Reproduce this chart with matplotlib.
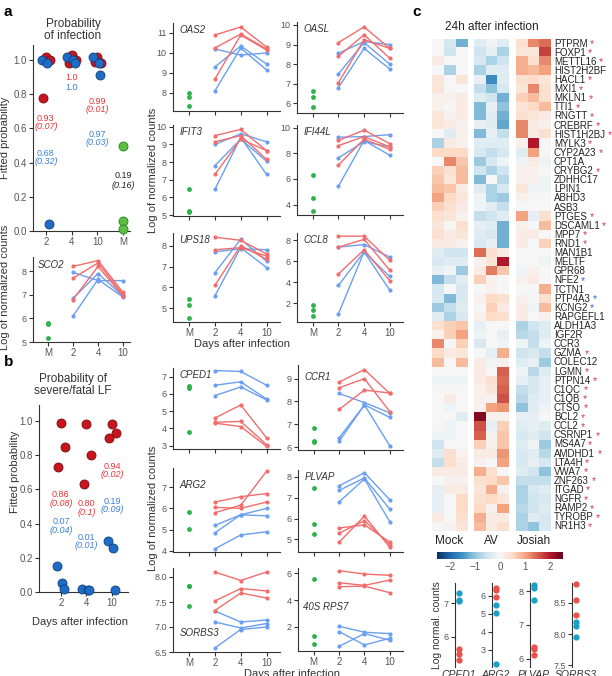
import numpy as np
import matplotlib.pyplot as plt
import matplotlib as mpl

mpl.rcParams['font.family'] = ['Liberation Sans', 'DejaVu Sans']

W, H = 612, 676

# ---------------- panel a / b : fitted probabilities ----------------
days_inf = ['2', '4', '10', 'M']
inf_red = [[1.02, 1.0, 0.78], [1.03, 1.0, 0.98], [1.02, 0.98, 0.99]]
inf_blue = [[1.0, 0.98, 0.04], [1.02, 1.0, 0.98], [1.02, 0.98, 0.91]]
inf_green = [0.5, 0.06, 0.01]
inf_red_txt = [('0.93', '(0.07)'), ('1.0', ''), ('0.99', '(0.01)')]
inf_blue_txt = [('0.68', '(0.32)'), ('1.0', ''), ('0.97', '(0.03)')]
inf_red_ty = [0.635, 0.9, 0.735]
inf_blue_ty = [0.43, 0.84, 0.54]
inf_green_txt = ('0.19', '(0.16)')
inf_green_ty = 0.295

days_sev = ['2', '4', '10']
sev_red = [[0.99, 0.85, 0.73], [0.98, 0.80, 0.63], [0.98, 0.93, 0.90]]
sev_blue = [[0.15, 0.05, 0.02], [0.02, 0.01, 0.01], [0.30, 0.26, 0.01]]
sev_red_txt = [('0.86', '(0.08)'), ('0.80', '(0.1)'), ('0.94', '(0.02)')]
sev_blue_txt = [('0.07', '(0.04)'), ('0.01', '(0.01)'), ('0.19', '(0.09)')]
sev_red_ty = [0.545, 0.49, 0.71]
sev_blue_ty = [0.385, 0.295, 0.505]

# ---------------- gene trajectories (M, 2, 4, 10) ----------------
days_gene = ['M', '2', '4', '10']
sco2_m = [5.8, 5.75, 5.15]
sco2_red = [[8.2, 8.45, 7.1], [7.7, 8.35, 7.0], [6.8, 8.2, 6.95]]
sco2_blue = [[7.95, 7.6, 7.6], [6.85, 7.9, 6.95], [6.1, 7.65, 6.9]]

oas2_m = [8.0, 7.8, 7.35]
oas2_red = [[10.9, 11.3, 10.3], [10.25, 10.95, 10.2], [8.7, 10.9, 10.15]]
oas2_blue = [[10.2, 9.9, 10.0], [9.3, 10.35, 9.45], [8.1, 10.25, 9.15]]

oasl_m = [6.6, 6.3, 5.8]
oasl_red = [[9.1, 9.9, 8.8], [8.4, 9.5, 8.3], [7.05, 9.25, 8.8]]
oasl_blue = [[8.55, 9.15, 9.0], [7.5, 9.1, 8.0], [6.8, 8.8, 7.75]]

ifit3_m = [6.5, 5.25, 5.15]
ifit3_red = [[9.5, 9.85, 8.65], [9.15, 9.5, 8.15], [7.3, 9.3, 8.65]]
ifit3_blue = [[9.0, 9.6, 9.15], [7.8, 9.3, 8.05], [6.45, 9.4, 7.3]]

ifi44l_m = [6.3, 4.55, 3.55]
ifi44l_red = [[9.0, 9.8, 8.75], [8.6, 9.3, 8.5], [7.1, 9.1, 8.3]]
ifi44l_blue = [[9.25, 9.3, 9.45], [7.65, 8.9, 8.5], [5.45, 9.0, 7.85]]

ups18_m = [5.45, 5.15, 4.55]
ups18_red = [[8.4, 8.25, 7.6], [7.8, 7.9, 7.5], [6.1, 8.0, 7.35]]
ups18_blue = [[7.7, 7.85, 7.8], [6.7, 8.3, 7.25], [5.6, 7.9, 6.95]]

ccl8_m = [1.8, 1.3, 0.75]
ccl8_red = [[8.4, 8.4, 6.1], [7.35, 8.1, 5.15], [4.8, 7.1, 4.15]]
ccl8_blue = [[7.35, 7.6, 6.4], [3.7, 6.9, 4.55], [1.0, 6.9, 3.25]]

cped1_m = [6.45, 6.35, 3.8]
cped1_red = [[4.6, 5.35, 3.45], [4.35, 4.4, 3.05], [4.3, 4.1, 2.95]]
cped1_blue = [[7.35, 7.3, 6.5], [6.5, 6.7, 5.7], [5.9, 6.4, 5.65]]

ccr1_m = [6.85, 6.27, 6.2]
ccr1_red = [[8.85, 9.4, 8.35], [8.6, 9.0, 7.55], [7.65, 8.5, 8.37]]
ccr1_blue = [[8.35, 7.95, 7.5], [6.4, 7.85, 7.3], [6.25, 7.85, 6.05]]

arg2_m = [5.85, 5.05]
arg2_red = [[6.3, 6.55, 6.7], [6.05, 6.0, 6.3], [5.8, 6.15, 7.75]]
arg2_blue = [[5.2, 5.7, 6.0], [4.85, 5.7, 5.65], [4.1, 4.75, 4.9]]

plvap_m = [7.45, 5.75, 5.27]
plvap_red = [[5.55, 5.7, 4.87], [5.3, 5.9, 4.75], [4.87, 6.12, 4.62]]
plvap_blue = [[7.57, 8.2, 6.9], [7.35, 7.95, 6.45], [6.8, 7.9, 5.85]]

sorbs3_m = [7.83, 7.82, 7.43]
sorbs3_red = [[8.1, 7.93, 8.1], [7.52, 7.77, 7.72], [7.33, 7.68, 7.58]]
sorbs3_blue = [[7.32, 7.1, 7.14], [7.1, 6.98, 7.07], [6.58, 6.95, 7.0]]

rps7_m = [5.55, 1.3, 0.7]
rps7_red = [[6.2, 5.95, 5.85], [5.3, 5.1, 5.5], [5.0, 5.05, 4.55]]
rps7_blue = [[2.05, 1.6, 1.5], [1.65, 0.65, 1.15], [0.55, 1.5, 1.0]]

# ---------------- heatmap ----------------
genes = ["PTPRM", "FOXP1", "METTL16", "HIST2H2BF", "HACL1", "MXI1", "MKLN1", "TTI1",
         "RNGTT", "CREBRF", "HIST1H2BJ", "MYLK3", "CYP2A23", "CPT1A", "CRYBG2", "ZDHHC17",
         "LPIN1", "ABHD3", "ASB3", "PTGES", "DSCAML1", "MPP7", "RND1", "MAN1B1", "MELTF",
         "GPR68", "NFE2", "TCTN1", "PTP4A3", "KCNG2", "RAPGEFL1", "ALDH1A3", "IGF2R", "CCR3",
         "GZMA", "COLEC12", "LGMN", "PTPN14", "C1QC", "C1QB", "CTSO", "BCL2", "CCL2",
         "CSRNP1", "MS4A7", "AMDHD1", "LTA4H", "VWA7", "ZNF263", "ITGAD", "NGFR", "RAMP2",
         "TYROBP", "NR1H3"]
stars = ['r', 'r', 'r', '', 'r', 'r', 'r', 'r', 'r', 'r', 'r', 'r', 'r', '', 'r', '',
         '', '', '', 'r', 'r', 'r', 'r', '', '', '', 'b', '', 'b', 'b', '', '', '', '',
         'r', '', 'r', 'r', 'r', 'r', 'r', 'r', 'r', 'r', 'r', 'r', 'r', 'r', 'r', 'r',
         'r', 'r', 'r', 'r']
groups = ['Mock', 'AV', 'Josiah']
mock = [[0.0, -0.4, -1.2], [0.0, -0.5, 0.0], [0.2, 0.0, 0.0], [0.0, -0.8, 0.0],
        [0.3, 0.0, 0.3], [0.3, 0.0, 0.0], [0.1, 0.1, 0.2], [0.1, 0.0, 0.2],
        [0.3, 0.1, 0.2], [0.3, 0.2, 0.1], [0.0, -0.3, 0.1], [-0.8, 0.2, 0.1],
        [0.5, 0.5, 0.5], [0.0, 1.2, 0.7], [0.6, 0.4, 0.8], [0.7, 0.3, 0.8],
        [0.8, 0.7, 0.2], [1.0, 0.5, 0.3], [0.6, 0.4, 0.2], [0.4, 0.3, 0.1],
        [0.3, 0.0, 0.4], [0.4, 0.2, 0.3], [0.2, 0.2, 0.1], [-0.3, -0.5, -0.5],
        [-0.4, -0.3, -0.3], [-0.2, -0.1, -0.9], [-1.1, -0.6, -0.3], [-0.4, 0.0, -0.4],
        [-0.4, -1.1, -0.4], [-0.9, -0.6, -0.3], [-0.3, -0.8, -0.4], [0.4, 0.6, 0.7],
        [0.1, 0.6, 1.0], [1.2, 0.0, 0.6], [0.5, 0.2, 0.3], [0.8, 0.0, 0.8],
        [0.0, 0.0, 0.0], [-0.1, -0.1, -0.1], [0.0, 0.0, 0.0], [0.0, 0.2, 0.0],
        [0.0, -0.1, 0.0], [0.0, 0.0, -0.3], [0.0, -0.1, 0.0], [-0.1, -0.1, 0.0],
        [-0.5, 0.0, 0.0], [-0.3, 0.4, 0.1], [-0.6, 0.4, 0.2], [0.2, 0.2, 0.2],
        [0.0, 0.1, 0.1], [-0.2, 0.2, 0.2], [-0.2, 0.0, 0.5], [-0.2, 0.0, 0.5],
        [0.2, 0.0, 0.4], [0.0, 0.1, 0.3]]
av = [[-0.3, -0.1, -0.3], [-0.5, -0.2, -0.8], [-0.4, -0.8, -0.5], [-0.8, -0.3, -0.3],
      [-0.2, -1.6, -0.3], [-0.6, -1.0, -0.4], [-0.3, -0.5, -1.2], [-1.1, -0.2, -1.0],
      [-1.1, -0.3, -1.2], [-0.2, -0.3, -1.3], [-1.1, -0.2, -0.6], [-0.3, -0.3, -0.3],
      [-0.4, -0.6, -0.4], [-0.9, -0.4, -0.1], [-0.5, -0.8, -0.5], [-1.1, 0.0, -0.7],
      [-0.3, -0.8, -0.4], [-0.1, -0.8, -0.9], [-0.1, -0.3, -0.6], [-0.6, -0.5, -0.3],
      [-0.2, -0.3, -1.2], [-0.3, -0.4, -1.2], [-0.4, -0.2, -1.2], [1.4, 0.4, 0.2],
      [0.1, 0.3, 2.0], [0.2, 1.3, 0.7], [0.6, 0.1, 0.0], [0.0, 0.1, 0.0],
      [0.1, 0.5, 0.4], [0.0, 0.6, 0.2], [0.1, 0.5, 0.4], [-0.2, 0.0, 0.0],
      [-0.1, 0.0, -0.2], [-0.4, 0.0, -0.1], [0.0, -0.2, 0.9], [0.2, -0.1, 0.1],
      [0.2, 0.0, 1.5], [0.2, 0.4, 1.4], [0.1, 0.3, 1.5], [0.1, 0.1, 1.6],
      [0.1, 1.0, 1.1], [2.3, 0.1, 0.1], [1.6, -0.2, 0.6], [1.5, 0.1, 0.7],
      [0.6, 0.1, 0.7], [0.2, 0.2, 1.1], [0.1, 0.0, 1.0], [0.9, 0.4, 0.0],
      [0.4, 0.5, 0.7], [0.3, 0.9, 0.1], [0.4, 0.5, 0.3], [0.5, 0.1, 1.0],
      [0.9, 0.2, 0.2], [0.8, 0.2, 0.4]]
josiah = [[0.4, 1.2, 1.4], [0.3, 0.3, 1.7], [0.9, 0.4, 1.2], [0.9, 0.8, 1.0],
          [0.4, 0.5, 0.3], [0.3, 1.2, 0.4], [0.6, 0.8, 0.4], [0.3, 0.5, 0.8],
          [0.4, 0.3, 0.2], [1.2, 0.2, 0.1], [1.2, 0.2, 0.4], [0.1, 2.0, 0.0],
          [-0.3, 1.0, 0.0], [-0.1, 0.2, -0.1], [0.1, 0.1, 0.0], [0.1, 0.1, -0.1],
          [0.3, -0.1, -0.1], [0.1, 0.0, 0.0], [0.0, 0.0, 0.0], [1.0, -0.2, 0.4],
          [0.1, 0.0, 0.8], [0.2, 0.2, 0.0], [0.2, 0.0, 0.6], [0.0, 0.0, 0.0],
          [0.0, 0.0, -0.1], [-0.1, 0.1, 0.0], [0.1, 0.2, 0.0], [0.0, 0.0, 0.9],
          [0.1, 0.0, 0.4], [0.2, -0.1, 0.8], [0.2, 0.0, 0.1], [-0.8, -0.5, -0.3],
          [-0.7, -0.6, -0.3], [-0.1, -0.6, -0.1], [-0.5, -0.4, -0.6], [-0.3, -0.2, -0.9],
          [-0.1, -0.7, -0.3], [-0.2, -0.4, -0.2], [-0.6, -0.4, -0.2], [-0.7, -0.3, -0.2],
          [-1.0, -0.3, -0.1], [-0.2, -0.2, 0.0], [-0.3, -0.2, -0.3], [-0.4, -0.3, -0.5],
          [-0.3, -0.1, -0.9], [-0.4, -0.3, -0.7], [-0.4, -0.2, -0.4], [-0.3, -0.5, -1.0],
          [-0.6, -0.6, -0.6], [-0.8, -0.4, -0.3], [-0.8, -0.5, -0.4], [-0.7, -0.5, -0.3],
          [-0.8, -0.3, -0.4], [-0.8, -1.0, -0.4]]

# ---------------- small strip plots under the heatmap ----------------
strip_genes = ['CPED1', 'ARG2', 'PLVAP', 'SORBS3']
strip_red = [[5.65, 5.5, 5.3], [6.45, 6.3, 5.9], [6.35, 6.3, 6.1], [8.8, 8.55, 8.3]]
strip_blue = [[7.3, 7.1, 7.05], [5.5, 5.05, 2.2], [8.2, 8.1, 7.75], [8.2, 8.13, 7.95]]

# ---------------- styles ----------------
RED_D, RED_E = '#c8141e', '#7a0a0a'
BLUE_D, BLUE_E = '#1f6cc6', '#0f3f7a'
GREEN_D, GREEN_E = '#5cc043', '#2a7f22'
RED_L, BLUE_L, GREEN_L = '#f26d6d', '#6c9ff0', '#2db34a'
RED_T, BLUE_T = '#e8343a', '#3b7fd8'
TICKC = '#555555'
SPC = '#333333'

fig = plt.figure(figsize=(W / 100, H / 100), dpi=100)


def add_ax(x0, y0, x1, y1):
    return fig.add_axes([x0 / W, 1 - y1 / H, (x1 - x0) / W, (y1 - y0) / H])


def style(ax, fs=6.5):
    for s in ['top', 'right']:
        ax.spines[s].set_visible(False)
    for s in ['left', 'bottom']:
        ax.spines[s].set_linewidth(0.8)
        ax.spines[s].set_color(SPC)
    ax.tick_params(labelsize=fs, colors=SPC, labelcolor=TICKC, length=3, width=0.8, pad=1.5)


def ftext(x, y, s, **kw):
    return fig.text(x / W, 1 - y / H, s, **kw)


# ---- probability panels ----
def prob_panel(ax, labels, red, blue, red_txt, blue_txt, red_ty, blue_ty, ylim, xlim):
    style(ax, 7)
    offs_r = [0.0, 0.16, -0.1]
    offs_b = [-0.16, 0.05, 0.12]
    for i in range(len(red)):
        ax.scatter(i + np.array(offs_r), red[i], s=42, c=RED_D, edgecolors=RED_E,
                   linewidths=0.6, zorder=3, clip_on=False)
        ax.scatter(i + np.array(offs_b), blue[i], s=42, c=BLUE_D, edgecolors=BLUE_E,
                   linewidths=0.6, zorder=3, clip_on=False)
        for (a, b), ty, col in [(red_txt[i], red_ty[i], RED_T), (blue_txt[i], blue_ty[i], BLUE_T)]:
            ax.text(i, ty + (0.025 if b else 0), a, color=col, fontsize=6.5, ha='center', va='center')
            if b:
                ax.text(i, ty - 0.025, b, color=col, fontsize=6.5, ha='center', va='center',
                        style='italic')
    ax.set_xticks(range(len(labels)))
    ax.set_xticklabels(labels)
    ax.set_ylim(*ylim)
    ax.set_xlim(*xlim)
    ax.set_yticks([0, 0.2, 0.4, 0.6, 0.8, 1.0])
    ax.set_yticklabels(['0.0', '0.2', '0.4', '0.6', '0.8', '1.0'])


ax_inf = add_ax(33, 45, 130, 231)
prob_panel(ax_inf, days_inf, inf_red, inf_blue, inf_red_txt, inf_blue_txt,
           inf_red_ty, inf_blue_ty, (0.0, 1.088), (-0.5, 3.27))
ax_inf.scatter([3, 3, 3], inf_green, s=42, c=GREEN_D, edgecolors=GREEN_E,
               linewidths=0.6, zorder=3, clip_on=False)
ax_inf.text(3, inf_green_ty + 0.027, inf_green_txt[0], fontsize=6.5, ha='center', va='center', color='#222')
ax_inf.text(3, inf_green_ty - 0.027, inf_green_txt[1], fontsize=6.5, ha='center', va='center',
            color='#222', style='italic')

ax_sev = add_ax(39, 405, 128, 592)
prob_panel(ax_sev, days_sev, sev_red, sev_blue, sev_red_txt, sev_blue_txt,
           sev_red_ty, sev_blue_ty, (0.0, 1.094), (-0.86, 2.63))


# ---- gene trajectory panels ----
def gene_panel(ax, m, red, blue, name, ylim, yticks, xlabels, npos, xlim):
    style(ax)
    for b in blue:
        ax.plot([1, 2, 3], b, '-o', color=BLUE_L, ms=3, lw=1, mew=0, zorder=2)
    for r in red:
        ax.plot([1, 2, 3], r, '-o', color=RED_L, ms=3, lw=1, mew=0, zorder=2)
    ax.plot(np.zeros(len(m)), m, 'o', color=GREEN_L, ms=3.5, mew=0, zorder=3)
    ax.set_xticks(range(4))
    if xlabels:
        ax.set_xticklabels(days_gene, fontsize=7)
    else:
        ax.set_xticklabels([])
    ax.set_xlim(*xlim)
    ax.set_ylim(*ylim)
    ax.set_yticks(yticks)
    ax.text(npos[0], npos[1], name, transform=ax.transAxes, fontsize=7, style='italic',
            color='#333', ha='left', va=npos[2])


TOP = (0.06, 0.98, 'top')
LX = (-0.62, 3.52)
gene_panel(add_ax(33, 257, 130, 342), sco2_m, sco2_red, sco2_blue, 'SCO2', (5, 8.6),
           [5, 6, 7, 8], True, (0.05, 0.97, 'top'), (-0.6, 3.28))
gene_panel(add_ax(173, 23, 280, 111), oas2_m, oas2_red, oas2_blue, 'OAS2', (7.1, 11.5),
           [8, 9, 10, 11], False, TOP, LX)
gene_panel(add_ax(297, 22, 403, 113), oasl_m, oasl_red, oasl_blue, 'OASL', (5.5, 10.15),
           [6, 7, 8, 9, 10], False, TOP, LX)
gene_panel(add_ax(173, 125, 280, 216), ifit3_m, ifit3_red, ifit3_blue, 'IFIT3', (4.95, 10.1),
           [5, 6, 7, 8, 9, 10], False, TOP, LX)
gene_panel(add_ax(297, 125, 403, 215), ifi44l_m, ifi44l_red, ifi44l_blue, 'IFI44L', (3.2, 10.2),
           [4, 6, 8, 10], False, TOP, LX)
gene_panel(add_ax(173, 233, 280, 322), ups18_m, ups18_red, ups18_blue, 'UPS18', (4.35, 8.6),
           [5, 6, 7, 8], True, TOP, LX)
gene_panel(add_ax(297, 233, 403, 322), ccl8_m, ccl8_red, ccl8_blue, 'CCL8', (0.2, 8.7),
           [2, 4, 6, 8], True, TOP, LX)

gene_panel(add_ax(173, 368, 280, 449), cped1_m, cped1_red, cped1_blue, 'CPED1', (2.8, 7.5),
           [3, 4, 5, 6, 7], False, TOP, LX)
gene_panel(add_ax(298, 365, 403, 450), ccr1_m, ccr1_red, ccr1_blue, 'CCR1', (5.87, 9.6),
           [6, 7, 8, 9], False, (0.06, 0.92, 'top'), LX)
gene_panel(add_ax(173, 468, 280, 552), arg2_m, arg2_red, arg2_blue, 'ARG2', (3.95, 7.9),
           [4, 5, 6, 7], False, (0.06, 0.86, 'top'), LX)
gene_panel(add_ax(298, 470, 403, 552), plvap_m, plvap_red, plvap_blue, 'PLVAP', (4.4, 8.33),
           [5, 6, 7, 8], False, TOP, LX)
ax_s = add_ax(173, 568, 280, 652)
gene_panel(ax_s, sorbs3_m, sorbs3_red, sorbs3_blue, 'SORBS3', (6.5, 8.18),
           [6.5, 7.0, 7.5, 8.0], True, (0.06, 0.23, 'center'), LX)
ax_s.set_yticklabels(['6.5', '7.0', '7.5', '8.0'])
gene_panel(add_ax(298, 568, 403, 651), rps7_m, rps7_red, rps7_blue, '40S RPS7', (0.2, 6.4),
           [2, 4, 6], True, (0.05, 0.53, 'center'), LX)

# ---- axis titles / labels ----
ftext(4, 12, 'a', fontsize=11, fontweight='bold', va='center')
ftext(4, 362, 'b', fontsize=11, fontweight='bold', va='center')
ftext(412, 12, 'c', fontsize=11, fontweight='bold', va='center')
ftext(73, 30, 'Probability\nof infection', fontsize=8.5, ha='center', va='center', color='#333',
      linespacing=1.1)
ftext(73, 385, 'Probability of\nsevere/fatal LF', fontsize=8.5, ha='center', va='center',
      color='#333', linespacing=1.1)
ftext(5, 138, 'Fitted probability', fontsize=8, rotation=90, ha='center', va='center', color='#333')
ftext(5, 287, 'Log of normalized counts', fontsize=8, rotation=90, ha='center', va='center', color='#333')
ftext(15, 472, 'Fitted probability', fontsize=8, rotation=90, ha='center', va='center', color='#333')
ftext(153, 170, 'Log of normalized counts', fontsize=8, rotation=90, ha='center', va='center', color='#333')
ftext(153, 508, 'Log of normalized counts', fontsize=8, rotation=90, ha='center', va='center', color='#333')
ftext(242, 344, 'Days after infection', fontsize=8, ha='center', va='center', color='#333')
ftext(292, 674, 'Days after infection', fontsize=8, ha='center', va='center', color='#333')
ftext(80, 622, 'Days after infection', fontsize=8, ha='center', va='center', color='#333')

# ---- heatmap ----
cmap = plt.get_cmap('RdBu_r')
hm_x = [(432, 467), (474, 509), (516, 551)]
hm_top, hm_bot = 39, 531
for (x0, x1), data, g in zip(hm_x, [mock, av, josiah], groups):
    ax = add_ax(x0, hm_top, x1, hm_bot)
    im = ax.imshow(np.array(data), cmap=cmap, vmin=-2.5, vmax=2.5, aspect='auto',
                   interpolation='nearest')
    ax.set_axis_off()
    ftext((x0 + x1) / 2, 541, g, fontsize=8.5, ha='center', va='center', color='#222')

ftext(492, 27, '24h after infection', fontsize=8.5, ha='center', va='center', color='#222')
row_h = (hm_bot - hm_top) / len(genes)
labels = []
for i, g in enumerate(genes):
    labels.append(ftext(554, hm_top + (i + 0.5) * row_h, g, fontsize=7, ha='left',
                        va='center', color='#222'))

fig.canvas.draw()
rend = fig.canvas.get_renderer()
for t, st in zip(labels, stars):
    if not st:
        continue
    bb = t.get_window_extent(rend)
    ftext(bb.x1 + 2.5, H - (bb.y0 + bb.y1) / 2 + 0.5, '*', fontsize=7.5,
          color='#d6336c' if st == 'r' else '#3a5fe0', ha='left', va='center')

cax = add_ax(437, 552, 563, 559)
cb = fig.colorbar(im, cax=cax, orientation='horizontal', ticks=[-2, -1, 0, 1, 2])
cb.outline.set_visible(False)
cb.ax.tick_params(labelsize=7, length=0, pad=2, labelcolor=TICKC)
cb.ax.set_xticklabels(['\u22122', '\u22121', '0', '1', '2'])

# ---- small strip plots ----
strip_box = [(455, 5.1, 7.6, [6, 7]), (492, 2.05, 6.7, [3, 4, 5, 6]),
             (530, 5.75, 8.25, [6, 7, 8]), (572, 7.47, 8.82, [7.5, 8.0, 8.5])]
for (x0, lo, hi, yt), gname, rv, bv in zip(strip_box, strip_genes, strip_red, strip_blue):
    ax = add_ax(x0, 583, x0 + 15, 667)
    style(ax)
    ax.spines['bottom'].set_visible(False)
    ax.plot(np.zeros(len(rv)), rv, 'o', color='#e8524a', ms=4.5, mew=0, clip_on=False)
    ax.plot(np.zeros(len(bv)), bv, 'o', color='#1aa0c8', ms=4.5, mew=0, clip_on=False)
    ax.set_xlim(-0.8, 2)
    ax.set_ylim(lo, hi)
    ax.set_yticks(yt)
    if gname == 'SORBS3':
        ax.set_yticklabels(['7.5', '8.0', '8.5'])
    ax.set_xticks([])
    ftext(x0 + 4, 675, gname, fontsize=7.5, style='italic', ha='center', va='center', color='#333')

ftext(437, 625, 'Log normal. counts', fontsize=7.5, rotation=90, ha='center', va='center', color='#333')

fig.savefig('out.png', dpi=100)
